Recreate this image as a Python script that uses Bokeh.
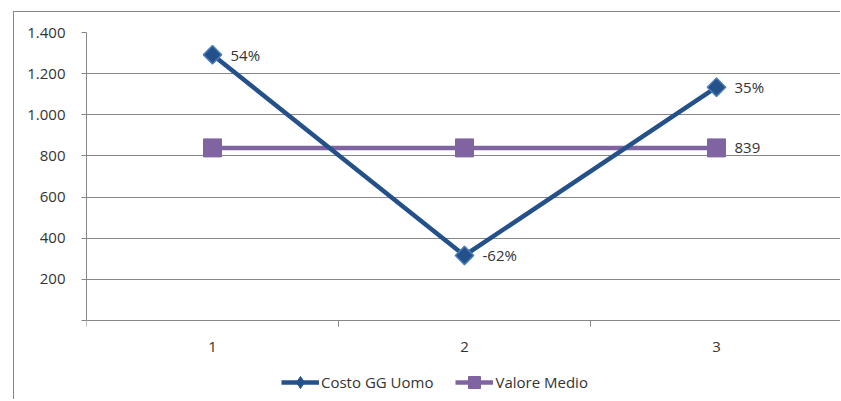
from bokeh.plotting import figure
from bokeh.models import (ColumnDataSource, FixedTicker, Range1d, Legend, LegendItem)
from bokeh.embed import file_html
from bokeh.resources import INLINE
from bokeh.core.properties import value

# ---- data ----
categories = [1, 2, 3]
costo_gg_uomo = [1292, 316, 1134]
valore_medio = [839, 839, 839]
y_ticks = [0, 200, 400, 600, 800, 1000, 1200, 1400]

mean_val = valore_medio[0]
pct_labels = [f"{round((v / mean_val - 1) * 100):d}%" for v in costo_gg_uomo]
mean_labels = ["", "", f"{mean_val:d}"]
y_tick_labels = {t: ("" if t == 0 else f"{t:,}".replace(",", ".")) for t in y_ticks}

FONT = "Open Sans"
GRID = "#868686"
TXT = "#333333"
BLUE = "#24518a"
BLUE_EDGE = "#4a7ebb"
PURPLE = "#8064a2"

# layout: value axis 0..1400 occupies 288 px at the top of an 368 px frame;
# the rest of the frame below 0 holds category labels and the legend
FRAME_H = 368
PLOT_H = 288
y_min = -(FRAME_H - PLOT_H) * 1400 / PLOT_H

src = ColumnDataSource(dict(x=categories, costo=costo_gg_uomo, medio=valore_medio,
                            pct=pct_labels, ml=mean_labels))

p = figure(width=827, height=388, output_backend="svg", toolbar_location=None,
           x_range=Range1d(0.5, 0.5 + 755 / 252), y_range=Range1d(y_min, 1400),
           min_border_left=72, min_border_right=0, min_border_top=20, min_border_bottom=0,
           styles={"margin-left": "13px", "margin-top": "11px",
                   "border-left": "1px solid #868686", "border-top": "1px solid #868686"})
p.outline_line_color = None
p.background_fill_color = "white"
p.border_fill_color = "white"

# axes
p.xaxis.fixed_location = 0
p.xaxis.ticker = FixedTicker(ticks=categories, minor_ticks=[0.5, 1.5, 2.5, 3.5])
p.xaxis.major_tick_out = 0
p.xaxis.major_tick_in = 0
p.xaxis.minor_tick_out = 6
p.xaxis.minor_tick_in = 0
p.xaxis.minor_tick_line_color = GRID
p.xaxis.axis_line_color = GRID
p.xaxis.major_label_standoff = 15

p.yaxis.bounds = (0, 1400)
p.yaxis.ticker = FixedTicker(ticks=y_ticks, minor_ticks=[])
p.yaxis.major_label_overrides = y_tick_labels
p.yaxis.major_tick_out = 5
p.yaxis.major_tick_in = 0
p.yaxis.minor_tick_out = 0
p.yaxis.minor_tick_in = 0
p.yaxis.major_tick_line_color = GRID
p.yaxis.axis_line_color = GRID
p.yaxis.major_label_standoff = 16

for ax in (p.xaxis, p.yaxis):
    ax.major_label_text_font = FONT
    ax.major_label_text_font_size = "15px"
    ax.major_label_text_color = TXT

p.xgrid.grid_line_color = None
p.ygrid.grid_line_color = GRID
p.ygrid.grid_line_width = 1
p.ygrid.ticker = FixedTicker(ticks=y_ticks[1:])

# series
l2 = p.line("x", "medio", source=src, line_color=PURPLE, line_width=4.5)
s2 = p.scatter("x", "medio", source=src, marker="square", size=18,
               fill_color=PURPLE, line_color=PURPLE)
l1 = p.line("x", "costo", source=src, line_color=BLUE, line_width=4.5)
s1 = p.scatter("x", "costo", source=src, marker="square", size=13, angle=0.785398,
               fill_color=BLUE, line_color=BLUE_EDGE, line_width=1.5)

p.text("x", "costo", text="pct", source=src, x_offset=18, text_baseline="middle",
       text_align="left", text_font=value(FONT), text_font_size="15px", text_color=TXT)
p.text("x", "medio", text="ml", source=src, x_offset=18, text_baseline="middle",
       text_align="left", text_font=value(FONT), text_font_size="15px", text_color=TXT)

# legend-only marker (diamond) for the first series; NaN point is never drawn in the plot
leg_src = ColumnDataSource(dict(x=[float("nan")], y=[float("nan")]))
leg_diamond = p.scatter("x", "y", source=leg_src, marker="diamond", size=12,
                        fill_color=BLUE, line_color=BLUE)

legend = Legend(items=[LegendItem(label="Costo GG Uomo", renderers=[l1, leg_diamond]),
                       LegendItem(label="Valore Medio", renderers=[l2, s2])],
                orientation="horizontal", location=(195, 3),
                padding=0, margin=0, spacing=22, glyph_width=38, glyph_height=30,
                label_standoff=2, label_height=30,
                label_text_font=FONT, label_text_font_size="15px", label_text_color=TXT,
                border_line_color=None, background_fill_alpha=0)
p.add_layout(legend, "center")

open("out.html", "w").write(file_html(p, INLINE))
